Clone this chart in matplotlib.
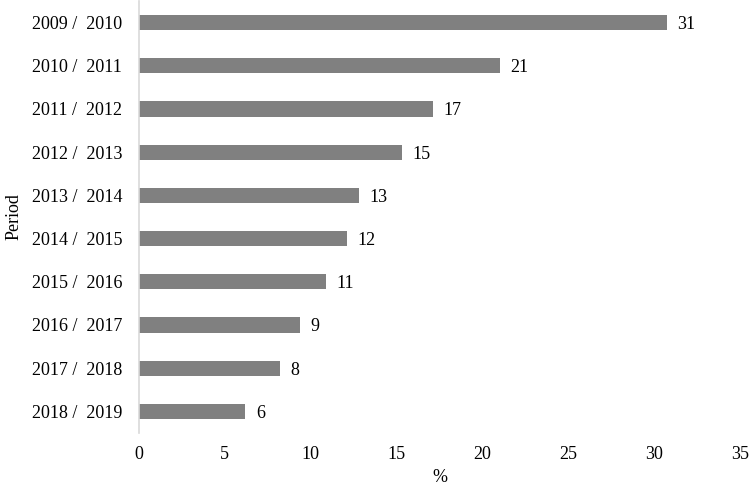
import matplotlib
matplotlib.use("Agg")
import matplotlib.pyplot as plt

# data (bar lengths) and the printed labels
periods = ['2009 /  2010', '2010 /  2011', '2011 /  2012', '2012 /  2013',
           '2013 /  2014', '2014 /  2015', '2015 /  2016', '2016 /  2017',
           '2017 /  2018', '2018 /  2019']
values = [30.75, 21.0, 17.1, 15.3, 12.8, 12.1, 10.9, 9.4, 8.2, 6.2]
labels = ['31', '21', '17', '15', '13', '12', '11', '9', '8', '6']
xticks = [0, 5, 10, 15, 20, 25, 30, 35]

plt.rcParams['font.family'] = ['Liberation Serif', 'DejaVu Serif']
plt.rcParams['font.size'] = 13

fig = plt.figure(figsize=(7.5, 4.87), dpi=100)
ax = fig.add_axes([0.1853, 0.1109, 0.8014, 0.8871])

ypos = list(range(len(periods)))
ax.barh(ypos, values, height=0.35, color='#808080')
for y, v, t in zip(ypos, values, labels):
    ax.text(v + 0.6, y, t, va='center_baseline', ha='left', fontsize=13)

ax.set_ylim(len(periods) - 0.5, -0.5)
ax.set_xlim(0, 35)
ax.set_yticks(ypos)
ax.set_yticklabels(periods)
ax.set_xticks(xticks)
ax.tick_params(axis='both', length=0, labelsize=13)
ax.tick_params(axis='x', pad=9.5)
ax.tick_params(axis='y', pad=12)

for s in ['top', 'right', 'bottom']:
    ax.spines[s].set_visible(False)
ax.spines['left'].set_color('#d9d9d9')
ax.spines['left'].set_linewidth(1.2)

ax.set_xlabel('%', fontsize=13, labelpad=4)
ax.set_ylabel('Period', fontsize=13, labelpad=7)

fig.savefig('out.png', dpi=100)
